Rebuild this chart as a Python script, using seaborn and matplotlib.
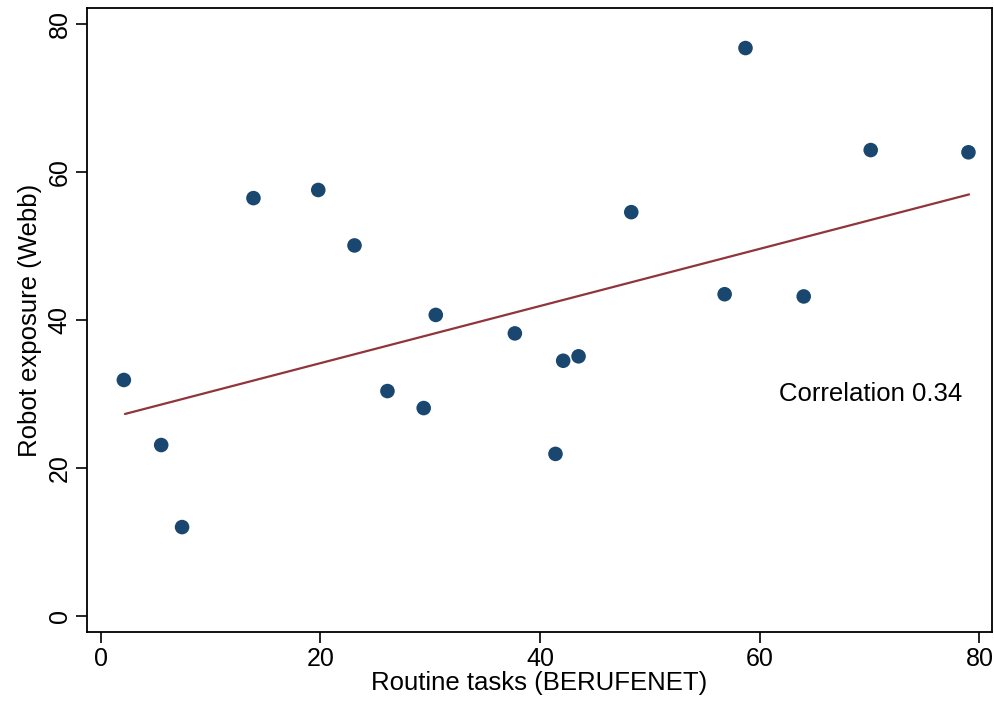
import matplotlib
matplotlib.use("Agg")
import matplotlib.pyplot as plt
import seaborn as sns
import numpy as np
import pandas as pd

routine = [2.1, 5.5, 7.4, 13.9, 19.8, 23.1, 26.1, 29.4, 30.5, 37.7, 41.4, 42.1, 43.5,
           48.3, 56.8, 58.7, 64.0, 70.1, 79.0]
robot = [31.9, 23.1, 12.0, 56.5, 57.6, 50.1, 30.4, 28.1, 40.7, 38.2, 21.9, 34.5, 35.1,
         54.6, 43.5, 76.8, 43.2, 63.0, 62.7]
fit_x = [2.2, 79.05]
fit_y = [27.3, 57.0]
x_ticks = [0, 20, 40, 60, 80]
y_ticks = [0, 20, 40, 60, 80]
annotation = "Correlation 0.34"

df = pd.DataFrame({"routine": routine, "robot": robot})
fit = pd.DataFrame({"x": fit_x, "y": fit_y})

sns.set_style("white")
plt.rcParams['font.family'] = ['Liberation Sans', 'DejaVu Sans']
for k in ['text.color', 'axes.labelcolor', 'xtick.color', 'ytick.color']:
    plt.rcParams[k] = 'black'

fig = plt.figure(figsize=(9.95, 7.07), dpi=100)
ax = fig.add_axes([0.0875, 0.106, 0.909, 0.8825])

sns.lineplot(data=fit, x="x", y="y", ax=ax, color="#90353b", lw=1.6)
sns.scatterplot(data=df, x="routine", y="robot", ax=ax, color="#1a476f",
                s=110, edgecolor="none", zorder=3)

ax.set_xlim(-1.25, 81.1)
ax.set_ylim(-2.2, 82.2)
ax.set_xticks(x_ticks)
ax.set_yticks(y_ticks)
ax.tick_params(axis='both', which='major', labelsize=18, direction='out', length=8,
               width=1.2, color='black', pad=3, left=True, bottom=True)
for lbl in ax.get_yticklabels():
    lbl.set_rotation(90)
    lbl.set_va('center')
for sp in ax.spines.values():
    sp.set_visible(True)
    sp.set_color('black')
    sp.set_linewidth(1.3)

ax.set_xlabel("Routine tasks (BERUFENET)", fontsize=18.5, labelpad=0)
ax.set_ylabel("Robot exposure (Webb)", fontsize=18.5, labelpad=4)
ax.text(70.1, 30.0, annotation, fontsize=18.5, ha='center', va='center')

fig.savefig("out.png", dpi=100)
